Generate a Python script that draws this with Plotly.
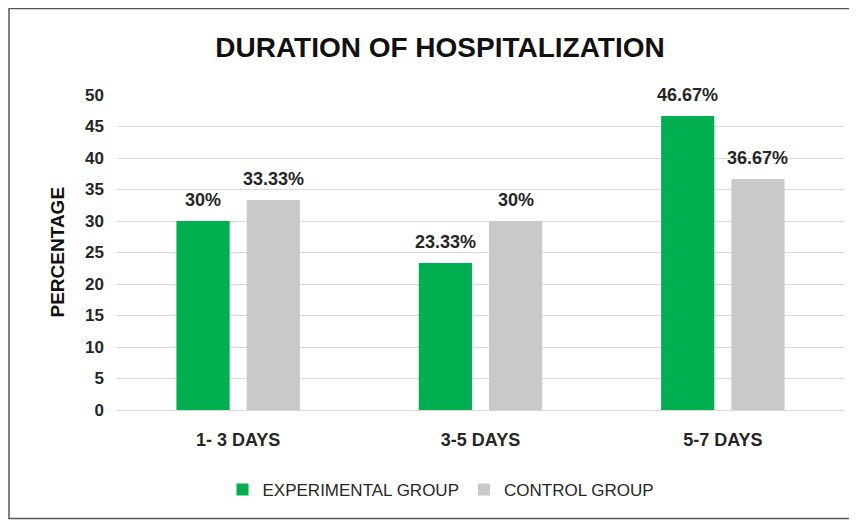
import plotly.graph_objects as go

categories = ["1- 3 DAYS", "3-5 DAYS", "5-7 DAYS"]
experimental = [30, 23.33, 46.67]
control = [33.33, 30, 36.67]
experimental_labels = ["30%", "23.33%", "46.67%"]
control_labels = ["33.33%", "30%", "36.67%"]
y_ticks = [0, 5, 10, 15, 20, 25, 30, 35, 40, 45, 50]

FONT = "Liberation Sans, Arial, sans-serif"
TEXT = "#262626"

# page is offset by the body margin (8px), so the figure is 8px smaller
W, H = 849, 512
L, R, T, B = 109, 13, 87, 110
PW, PH = W - L - R, H - T - B

fig = go.Figure()
fig.add_trace(
    go.Bar(
        x=categories,
        y=experimental,
        name="EXPERIMENTAL GROUP",
        marker=dict(color="#00B050", line=dict(width=0)),
    )
)
fig.add_trace(
    go.Bar(
        x=categories,
        y=control,
        name="CONTROL GROUP",
        marker=dict(color="#C9C9C9", line=dict(width=0)),
    )
)

# data labels above each bar
annotations = []
for values, labels, shift in [(experimental, experimental_labels, -35), (control, control_labels, 35)]:
    for cat, v, lab in zip(categories, values, labels):
        annotations.append(
            dict(
                x=cat,
                y=v,
                text=f"<b>{lab}</b>",
                showarrow=False,
                xshift=shift,
                yshift=21,
                yanchor="middle",
                font=dict(family=FONT, size=18, color=TEXT),
            )
        )

annotations.append(
    dict(
        text="<b>PERCENTAGE</b>",
        xref="paper",
        yref="paper",
        x=(49 - L) / PW,
        xanchor="center",
        y=0.5,
        textangle=-90,
        showarrow=False,
        font=dict(family=FONT, size=19, color="#111111"),
    )
)

fig.update_layout(
    width=W,
    height=H,
    paper_bgcolor="white",
    plot_bgcolor="white",
    font=dict(family=FONT, color=TEXT),
    barmode="group",
    bargap=0.42,
    bargroupgap=0.243,
    margin=dict(l=L, r=R, t=T, b=B),
    title=dict(
        text="<b>DURATION OF HOSPITALIZATION</b>",
        x=432 / W,
        xanchor="center",
        y=1 - 39 / H,
        yanchor="middle",
        font=dict(family=FONT, size=28, color="#111111"),
    ),
    xaxis=dict(
        showgrid=False,
        showline=True,
        linecolor="#D9D9D9",
        tickfont=dict(family=FONT, size=18, color=TEXT, weight="bold"),
        ticklabelstandoff=13,
    ),
    yaxis=dict(
        range=[0, 50],
        tickvals=y_ticks,
        showgrid=True,
        gridcolor="#D9D9D9",
        zeroline=False,
        tickfont=dict(family=FONT, size=17, color=TEXT, weight="bold"),
        ticklabelstandoff=12,
    ),
    legend=dict(
        orientation="h",
        x=(433 - L) / PW,
        xanchor="center",
        y=(402 - 482) / PH,
        yanchor="middle",
        font=dict(family=FONT, size=17, color=TEXT),
        itemwidth=30,
        traceorder="normal",
    ),
    annotations=annotations,
    shapes=[
        dict(
            type="rect",
            xref="paper",
            yref="paper",
            x0=(1 - L) / PW,
            x1=(W + 5 - L) / PW,
            y0=(402 - 510.5) / PH,
            y1=(402 - 0.5) / PH,
            line=dict(color="#595959", width=1.5),
        )
    ],
)

fig.write_html("out.html")
